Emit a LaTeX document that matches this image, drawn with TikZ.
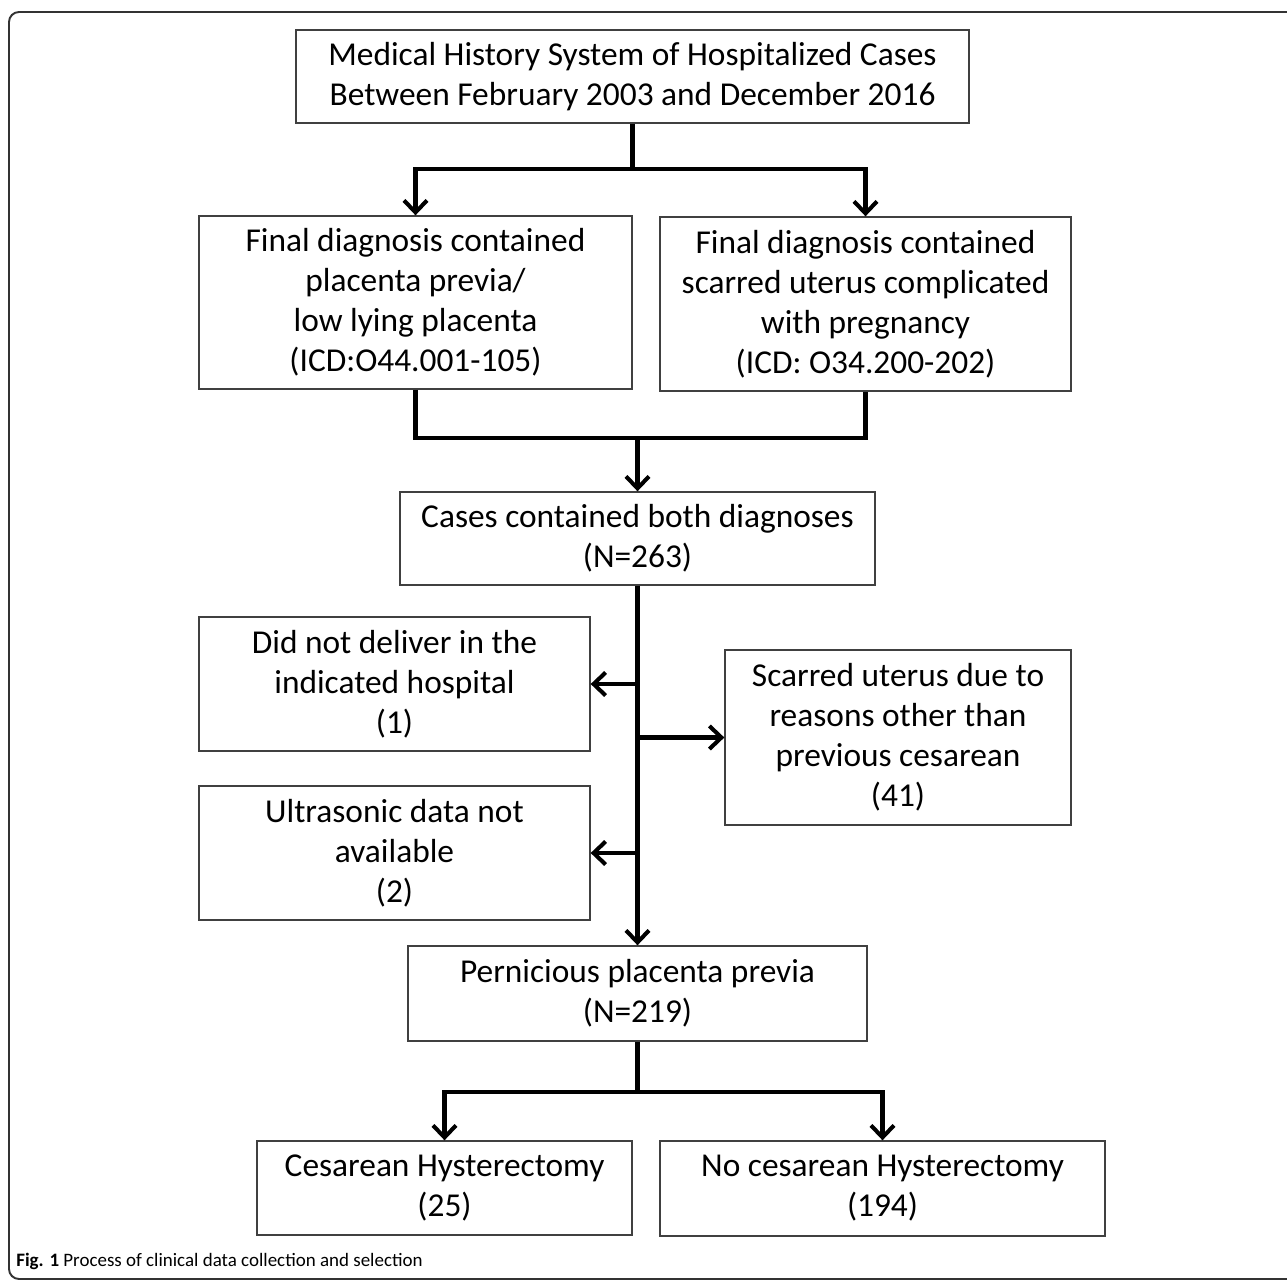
\documentclass[tikz,border=0pt]{standalone}
\usepackage{fontspec}
\setmainfont{Carlito}
\usetikzlibrary{arrows.meta}

\begin{document}
\begin{tikzpicture}[
    x=0.02cm, y=-0.02cm,
    flowbox/.style={rectangle, draw=black!75, line width=0.8pt, align=center, inner sep=0pt, font=\fontsize{19}{22.7}\selectfont},
    arrowline/.style={line width=2.3pt, -{Straight Barb[length=2.4mm, width=4.6mm, line width=2.3pt]}},
    plainline/.style={line width=2.3pt},
]

    % page size and the outer frame (its right side is cut off)
    \useasboundingbox (0, 0) rectangle (1287, 1280);
    \draw [black!80, line width=1.1pt, rounded corners=0.2cm] (9, 12) rectangle (1320, 1279);

    % source of the data
    \node at (632.5, 76.5) [flowbox, minimum width=13.46cm, minimum height=1.86cm] (source)
        {Medical History System of Hospitalized Cases\\Between February 2003 and December 2016};

    % the two diagnosis searches
    \node at (415.5, 302.5) [flowbox, minimum width=8.66cm, minimum height=3.46cm] (diagPrevia)
        {Final diagnosis contained\\placenta previa/\\low lying placenta\\(ICD:O44.001-105)};
    \node at (865.5, 304) [flowbox, minimum width=8.22cm, minimum height=3.48cm] (diagScar)
        {Final diagnosis contained\\scarred uterus complicated\\with pregnancy\\(ICD: O34.200-202)};

    % cases with both diagnoses
    \node at (637.5, 538.5) [flowbox, minimum width=9.5cm, minimum height=1.86cm] (bothDiag)
        {Cases contained both diagnoses\\(N=263)};

    % excluded cases
    \node at (394.5, 684) [flowbox, minimum width=7.82cm, minimum height=2.68cm] (exclHosp)
        {Did not deliver in the\\indicated hospital\\(1)};
    \node at (394.5, 853) [flowbox, minimum width=7.82cm, minimum height=2.68cm] (exclUltra)
        {Ultrasonic data not\\available\\(2)};
    \node at (898, 737.5) [flowbox, minimum width=6.92cm, minimum height=3.5cm] (exclScar)
        {Scarred uterus due to\\reasons other than\\previous cesarean\\(41)};

    % final group and its split
    \node at (637.5, 993.5) [flowbox, minimum width=9.18cm, minimum height=1.9cm] (pernicious)
        {Pernicious placenta previa\\(N=219)};
    \node at (444.5, 1188) [flowbox, minimum width=7.5cm, minimum height=1.88cm] (hyst)
        {Cesarean Hysterectomy\\(25)};
    \node at (882.5, 1188.5) [flowbox, minimum width=8.9cm, minimum height=1.9cm] (noHyst)
        {No cesarean Hysterectomy\\(194)};

    % caption
    \node at (16, 1266) [anchor=base west, inner sep=0pt, font=\fontsize{10.8}{13}\selectfont] (caption)
        {\textbf{Fig. 1} Process of clinical data collection and selection};

    % branch points
    \coordinate (topSplit) at (632.5, 169);
    \coordinate (merge) at (637.5, 438);
    \coordinate (bottomSplit) at (637.5, 1092);

    % source to the two searches
    \draw [plainline] (source.south) -- (topSplit);
    \foreach \target in {diagPrevia, diagScar}
    {
        \draw [arrowline] (topSplit) -| (\target.north);
    }

    % the two searches merge
    \draw [plainline] (diagPrevia.south) |- (merge) -| (diagScar.south);
    \draw [arrowline] (merge) -- (bothDiag.north);

    % main line down with the exclusions
    \draw [arrowline] (bothDiag.south) -- (pernicious.north);
    \foreach \excl in {exclHosp, exclUltra}
    {
        \draw [arrowline] (bothDiag.south |- \excl.east) -- (\excl.east);
    }
    \draw [arrowline] (bothDiag.south |- exclScar.west) -- (exclScar.west);

    % split by outcome
    \draw [plainline] (pernicious.south) -- (bottomSplit);
    \foreach \target in {hyst, noHyst}
    {
        \draw [arrowline] (bottomSplit) -| (\target.north);
    }

\end{tikzpicture}
\end{document}
